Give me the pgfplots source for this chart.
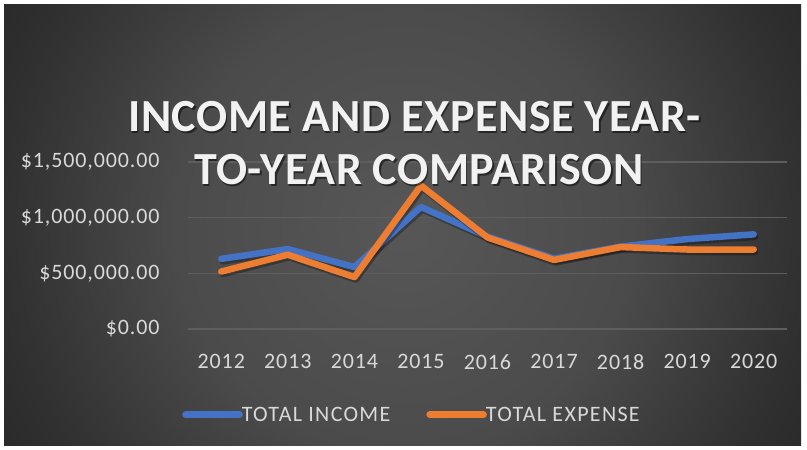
\documentclass[border=0pt]{standalone}
\usepackage{fontspec}
\setmainfont{Carlito}
\newfontfamily\tickfont[LetterSpace=4]{Carlito}
\newfontfamily\legfont[LetterSpace=6]{Carlito}
\newfontfamily\titlefont[LetterSpace=1.2]{Carlito}
\usepackage{pgfplots}
\pgfplotsset{compat=1.18}

\definecolor{incblue}{HTML}{4472C4}
\definecolor{expor}{HTML}{ED7D31}
\definecolor{gridc}{HTML}{5E5E5E}
\definecolor{lbl}{HTML}{D9D9D9}
\definecolor{ttl}{HTML}{F2F2F2}
\definecolor{bgA}{HTML}{575757}
\definecolor{bgB}{HTML}{4B4B4B}
\definecolor{bgC}{HTML}{303030}
\definecolor{bgD}{HTML}{292929}

\pgfdeclareradialshading{bgshade}{\pgfpoint{0bp}{0bp}}{%
  color(0bp)=(bgA); color(14bp)=(bgB); color(25bp)=(bgC);
  color(29bp)=(bgD); color(50bp)=(bgD)}

% values
\pgfplotstableread{
x income expense
0 630000 516000
1 718000 667000
2 556000 466000
3 1096000 1288000
4 830000 822000
5 632000 620000
6 740000 736000
7 808000 714000
8 850000 714000
}\money

\begin{document}
\begin{tikzpicture}[x=1pt,y=1pt]
\useasboundingbox (0,0) rectangle (807,450);
\fill[white] (0,0) rectangle (807,450);
\begin{scope}
  \clip (4,4) rectangle (801,445);
  \shade[shading=bgshade] (0,-178.5) rectangle (807,628.5);
\end{scope}

\begin{axis}[
    at={(188pt,121pt)}, anchor=south west,
    scale only axis, width=599pt, height=167pt,
    xmin=-0.5, xmax=8.5, ymin=0, ymax=1500000,
    clip=false,
    axis line style={draw=none},
    tick style={draw=none},
    ymajorgrids,
    major grid style={gridc, line width=1.3pt},
    xtick={0,...,8},
    xticklabels={2012,2013,2014,2015,2016,2017,2018,2019,2020},
    ytick={0,500000,1000000,1500000},
    yticklabels={\$0.00,\$500{,}000.00,\$1{,}000{,}000.00,\$1{,}500{,}000.00},
    scaled y ticks=false,
    ticklabel style={font=\tickfont\fontsize{22}{26}\selectfont, text=lbl},
    xticklabel style={yshift=-22pt},
    yticklabel style={xshift=-25pt},
    legend style={at={(0.374,-0.513)}, anchor=center, draw=none, fill=none,
      text=lbl, font=\legfont\fontsize{22}{26}\selectfont,
      /tikz/every odd column/.append style={column sep=-3pt},
      /tikz/every even column/.append style={column sep=34pt}},
    legend columns=2,
    legend image code/.code={\draw[#1, line cap=round] (0pt,0pt) -- (54pt,0pt);},
    every axis plot/.append style={line width=6.5pt, line cap=round, line join=round},
]
\addplot[incblue, forget plot,
  preaction={draw=black, opacity=0.3, transform canvas={xshift=1.5pt,yshift=-2.5pt}}]
  table[x=x, y=income] {\money};
\addplot[expor, forget plot,
  preaction={draw=black, opacity=0.3, transform canvas={xshift=1.5pt,yshift=-2.5pt}}]
  table[x=x, y=expense] {\money};
\addlegendimage{incblue, line width=6.5pt}
\addlegendentry{TOTAL INCOME}
\addlegendimage{expor, line width=6.5pt}
\addlegendentry{TOTAL EXPENSE}
\end{axis}

\node[anchor=base, text=black, opacity=0.5, font=\titlefont\fontsize{46}{50}\bfseries]
  at (416,316) {INCOME AND EXPENSE YEAR-};
\node[anchor=base, text=ttl, font=\titlefont\fontsize{46}{50}\bfseries]
  at (414.5,318) {INCOME AND EXPENSE YEAR-};
\node[anchor=base, text=black, opacity=0.5, font=\titlefont\fontsize{46}{50}\bfseries]
  at (420.5,263) {TO-YEAR COMPARISON};
\node[anchor=base, text=ttl, font=\titlefont\fontsize{46}{50}\bfseries]
  at (419,265) {TO-YEAR COMPARISON};
\end{tikzpicture}
\end{document}
